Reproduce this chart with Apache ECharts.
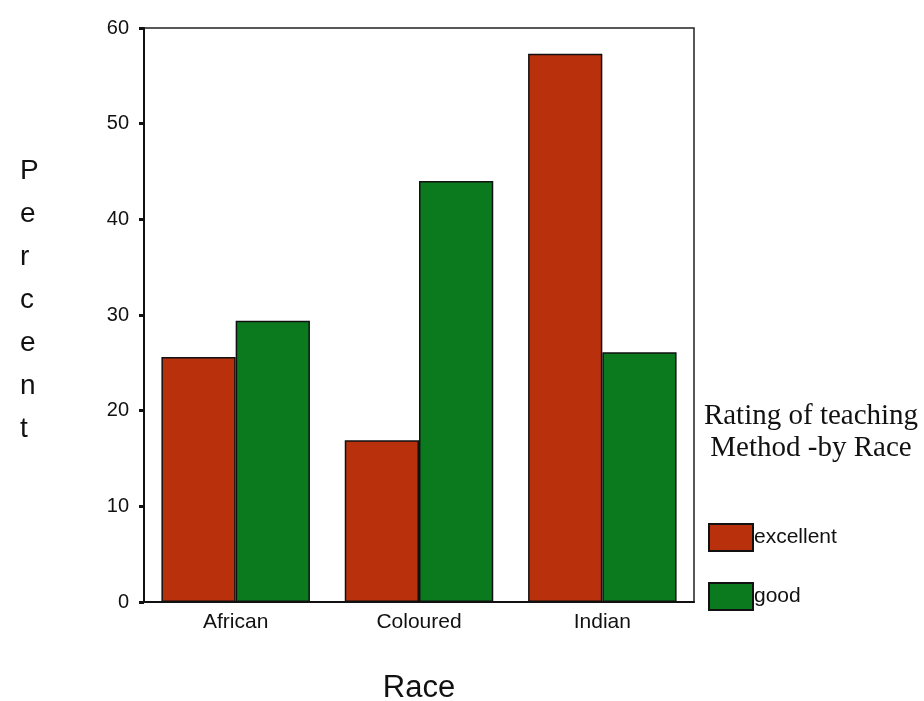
<!DOCTYPE html>
<html><head><meta charset="utf-8">
<script src="https://cdn.jsdelivr.net/npm/echarts@6/dist/echarts.min.js"></script>
<style>html,body{margin:0;padding:0;background:#fff}#c{width:924px;height:701px}</style>
</head><body><div id="c"></div>
<script>
const categories = ['African', 'Coloured', 'Indian'];
const excellent = [25.6, 16.9, 57.3];
const good = [29.4, 44.0, 26.1];
const yTicks = [0, 10, 20, 30, 40, 50, 60];

const chart = echarts.init(document.getElementById('c'));
chart.setOption({
  animation: false,
  backgroundColor: '#fff',
  grid: { left: 144, right: 230, top: 28, bottom: 99, outerBoundsMode: 'none', containLabel: false,
    show: true, borderColor: '#222', borderWidth: 1.5, backgroundColor: 'transparent' },
  xAxis: {
    type: 'category', data: categories,
    name: 'Race', nameLocation: 'middle', nameGap: 71,
    nameTextStyle: { fontFamily: 'Liberation Sans', fontSize: 31, color: '#111' },
    axisLine: { lineStyle: { color: '#111', width: 2 } },
    axisTick: { alignWithLabel: true, length: 5, lineStyle: { color: '#111', width: 3 } },
    axisLabel: { fontFamily: 'Liberation Sans', fontSize: 21, color: '#111', margin: 10 }
  },
  yAxis: {
    type: 'value', min: 0, max: 60, interval: 10,
    axisLine: { show: true, lineStyle: { color: '#111', width: 2 } },
    axisTick: { show: true, length: 5, lineStyle: { color: '#111', width: 3 } },
    splitLine: { show: false },
    axisLabel: { fontFamily: 'Liberation Sans', fontSize: 20, color: '#111', margin: 15,
      formatter: v => yTicks.includes(v) ? String(v) : '' }
  },
  legend: {
    orient: 'vertical', left: 703, top: 518, icon: 'rect',
    itemWidth: 44, itemHeight: 27, itemGap: 30,
    textStyle: { fontFamily: 'Liberation Sans', fontSize: 21, color: '#111', padding: [0, 0, 0, -4] },
    data: ['excellent', 'good']
  },
  graphic: [
    { type: 'text', x: 20, y: 150, style: { text: 'P\ne\nr\nc\ne\nn\nt', fontFamily: 'Liberation Sans', fontSize: 28, lineHeight: 43, fill: '#111', align: 'left' } },
    { type: 'text', x: 811, y: 400, style: { text: 'Rating of teaching\nMethod -by Race', fontFamily: 'Liberation Serif', fontSize: 29, lineHeight: 32, fill: '#111', align: 'center' } }
  ],
  series: [
    { name: 'excellent', type: 'bar', data: excellent, barGap: '0%', barCategoryGap: '19%',
      itemStyle: { color: '#b8300c', borderColor: '#111', borderWidth: 1.5 } },
    { name: 'good', type: 'bar', data: good,
      itemStyle: { color: '#0b7a1f', borderColor: '#111', borderWidth: 1.5 } }
  ]
});
</script></body></html>
